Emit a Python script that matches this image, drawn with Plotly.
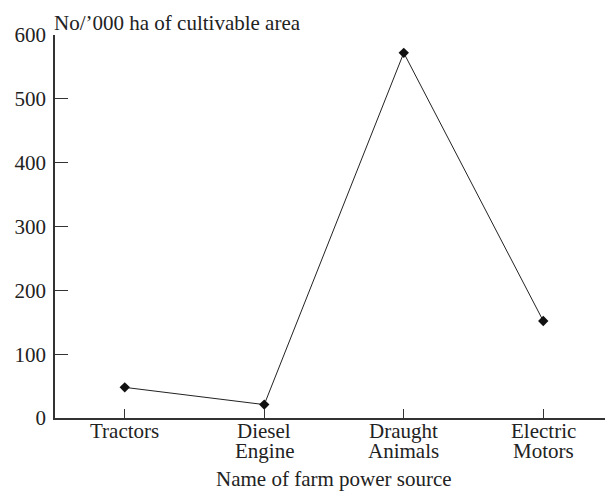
import plotly.graph_objects as go

sources = ["Tractors", "Diesel", "Draught", "Electric"]
sources_2nd_line = ["", "Engine", "Animals", "Motors"]
density = [48, 21, 572, 152]
y_ticks = [0, 100, 200, 300, 400, 500, 600]

font = "Liberation Serif, Times New Roman, serif"
fsize = 21

fig = go.Figure()
fig.add_trace(go.Scatter(
    x=sources, y=density, mode="lines+markers",
    line=dict(color="#222", width=1),
    marker=dict(symbol="diamond", size=8, color="#111"),
    cliponaxis=False,
))

# category labels as annotations so the two lines sit close together
notes = []
for name, second in zip(sources, sources_2nd_line):
    notes.append(dict(text=name, x=name, xref="x", y=0, yref="paper",
                      yanchor="top", yshift=1, showarrow=False))
    if second:
        notes.append(dict(text=second, x=name, xref="x", y=0, yref="paper",
                          yanchor="top", yshift=-19, showarrow=False))
notes.append(dict(text="Name of farm power source", x=0.5, xref="paper",
                  y=0, yref="paper", yanchor="top", yshift=-47,
                  showarrow=False))
notes.append(dict(text="No/’000 ha of cultivable area", xref="paper",
                  yref="paper", x=-0.006, y=1, xanchor="left",
                  yanchor="bottom", yshift=-2, showarrow=False))

# the page body adds an 8px margin, so the figure is a bit smaller than the window
fig.update_layout(
    width=605, height=484,
    margin=dict(l=47, r=0, t=27, b=74),
    paper_bgcolor="white", plot_bgcolor="white",
    font=dict(family=font, size=fsize, color="#222"),
    showlegend=False,
    annotations=notes,
)
fig.update_xaxes(
    range=[-0.5, 3.5], showline=True, linecolor="#333", linewidth=1.5,
    ticks="inside", ticklen=9, tickcolor="#333", showgrid=False,
    showticklabels=False,
)
fig.update_yaxes(
    range=[0, 600], tickvals=y_ticks, showline=True, linecolor="#333",
    linewidth=1.5, ticks="inside", ticklen=13, tickcolor="#333",
    showgrid=False, zeroline=False, tickfont=dict(size=fsize),
    ticklabelstandoff=3,
)

fig.write_html("out.html")
